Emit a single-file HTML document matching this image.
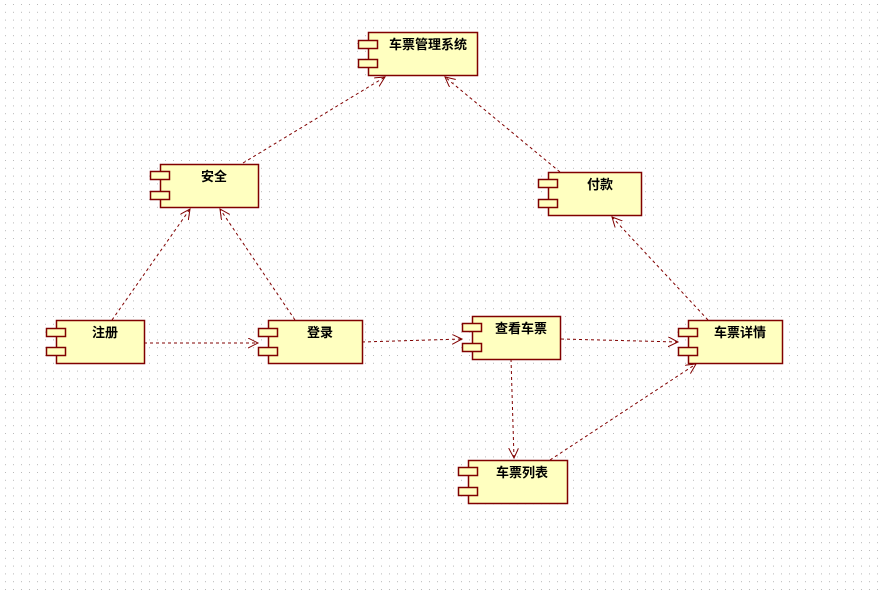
<!DOCTYPE html>
<html><head><meta charset="utf-8"><style>
html,body{margin:0;padding:0;background:#fff;}
svg{display:block}
text{font-family:"Liberation Sans","Noto Sans CJK SC",sans-serif;font-weight:bold;font-size:13px;fill:#000}
</style></head><body>
<svg width="883" height="591" xmlns="http://www.w3.org/2000/svg">
<defs>
<pattern id="g" x="5" y="4" width="8" height="7.8" patternUnits="userSpaceOnUse"><rect x="0" y="0" width="1" height="1" fill="#b8b8b8"/></pattern>
<marker id="a" markerWidth="12" markerHeight="12" refX="10" refY="5" orient="auto" markerUnits="userSpaceOnUse"><path d="M0,0 L10,5 L0,10" fill="none" stroke="#800000" stroke-width="1"/></marker>
</defs>
<rect width="883" height="591" fill="url(#g)"/>
<g stroke="#800000" stroke-width="1" stroke-dasharray="3,3" fill="none" marker-end="url(#a)">
<line x1="243" y1="163" x2="385" y2="77"/>
<line x1="560" y1="172" x2="445" y2="77"/>
<line x1="112" y1="320" x2="190" y2="209"/>
<line x1="295" y1="320" x2="220" y2="209"/>
<line x1="144" y1="343" x2="258" y2="343"/>
<line x1="362" y1="342" x2="462" y2="339"/>
<line x1="561" y1="339" x2="678" y2="342"/>
<line x1="708" y1="320" x2="612" y2="217"/>
<line x1="511" y1="359" x2="514" y2="458"/>
<line x1="550" y1="460" x2="696" y2="364"/>
</g>
<g stroke="#800000" stroke-width="1.5" fill="#ffffc0">
<rect x="368.5" y="32.5" width="109" height="43"/><rect x="358.5" y="40.5" width="19" height="8"/><rect x="358.5" y="59.5" width="19" height="8"/>
<rect x="160.5" y="164.5" width="98" height="43"/><rect x="150.5" y="171.5" width="19" height="8"/><rect x="150.5" y="191.5" width="19" height="8"/>
<rect x="548.5" y="172.5" width="93" height="43"/><rect x="538.5" y="179.5" width="19" height="8"/><rect x="538.5" y="199.5" width="19" height="8"/>
<rect x="56.5" y="320.5" width="88" height="43"/><rect x="46.5" y="328.5" width="19" height="8"/><rect x="46.5" y="347.5" width="19" height="8"/>
<rect x="268.5" y="320.5" width="94" height="43"/><rect x="258.5" y="328.5" width="19" height="8"/><rect x="258.5" y="347.5" width="19" height="8"/>
<rect x="472.5" y="316.5" width="88" height="43"/><rect x="462.5" y="323.5" width="19" height="8"/><rect x="462.5" y="343.5" width="19" height="8"/>
<rect x="688.5" y="320.5" width="94" height="43"/><rect x="678.5" y="328.5" width="19" height="8"/><rect x="678.5" y="347.5" width="19" height="8"/>
<rect x="468.5" y="460.5" width="99" height="43"/><rect x="458.5" y="467.5" width="19" height="8"/><rect x="458.5" y="487.5" width="19" height="8"/>
</g>
<g text-anchor="middle">
<text x="428" y="49">车票管理系统</text>
<text x="214" y="181">安全</text>
<text x="600" y="189">付款</text>
<text x="105" y="337">注册</text>
<text x="320" y="337">登录</text>
<text x="521" y="333">查看车票</text>
<text x="740" y="337">车票详情</text>
<text x="522" y="477">车票列表</text>
</g>
</svg>
</body></html>
